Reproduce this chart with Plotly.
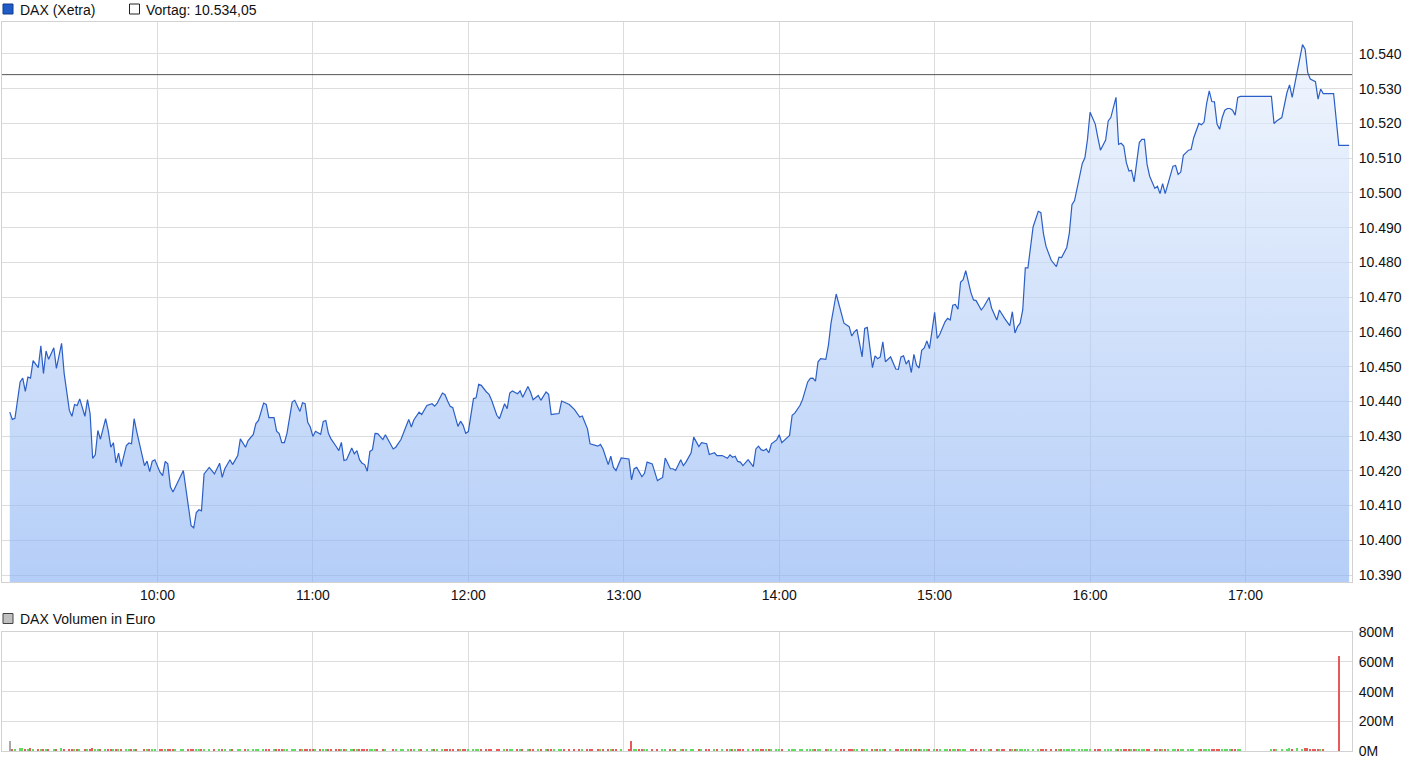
import plotly.graph_objects as go
from datetime import datetime, timedelta

# ---------------- data ----------------
session_day = datetime(2015, 11, 2, 9, 0)

minutes_since_0900 = [
    3, 4, 5, 7, 8, 9, 10, 11, 12, 14,
    15, 16, 17, 18, 20, 21, 23, 24, 26, 27,
    28, 29, 30, 32, 33, 34, 35, 36, 37, 38,
    40, 41, 42, 43, 44, 45, 46, 48, 49, 50,
    51, 52, 55, 56, 57, 58, 59, 61, 62, 63,
    64, 65, 66, 67, 69, 70, 72, 73, 74, 75,
    76, 77, 78, 80, 82, 84, 85, 86, 88, 89,
    91, 92, 94, 95, 97, 98, 99, 101, 102, 103,
    105, 106, 107, 108, 109, 110, 112, 113, 115, 116,
    117, 118, 119, 120, 121, 123, 124, 125, 126, 127,
    129, 130, 131, 132, 133, 135, 136, 137, 138, 139,
    140, 141, 142, 143, 144, 145, 147, 148, 151, 152,
    154, 155, 157, 158, 159, 161, 162, 164, 166, 167,
    168, 170, 171, 172, 173, 174, 176, 177, 178, 179,
    180, 182, 183, 184, 185, 187, 188, 189, 191, 192,
    194, 195, 196, 197, 199, 200, 201, 203, 204, 205,
    207, 208, 210, 211, 212, 213, 215, 216, 217, 219,
    221, 223, 224, 226, 227, 228, 230, 231, 232, 234,
    235, 236, 237, 239, 242, 243, 244, 245, 246, 247,
    248, 249, 251, 253, 255, 256, 258, 259, 260, 262,
    263, 264, 266, 267, 269, 270, 272, 273, 275, 276,
    278, 280, 281, 282, 283, 284, 285, 286, 288, 290,
    291, 292, 293, 294, 295, 296, 297, 299, 300, 301,
    304, 305, 306, 308, 309, 311, 312, 313, 314, 315,
    316, 318, 319, 320, 322, 324, 325, 327, 328, 329,
    330, 332, 333, 334, 336, 337, 338, 339, 340, 341,
    343, 345, 346, 347, 348, 349, 350, 351, 352, 353,
    354, 355, 356, 357, 358, 360, 361, 362, 364, 365,
    366, 367, 368, 369, 370, 371, 372, 374, 375, 376,
    378, 379, 381, 382, 384, 385, 386, 387, 389, 390,
    391, 392, 393, 394, 395, 396, 398, 400, 401, 402,
    403, 405, 407, 408, 409, 410, 411, 412, 413, 414,
    416, 417, 418, 419, 420, 422, 423, 424, 426, 427,
    428, 430, 431, 432, 433, 434, 435, 436, 437, 438,
    439, 440, 441, 442, 443, 445, 446, 447, 448, 449,
    450, 452, 453, 454, 455, 456, 458, 459, 460, 462,
    463, 464, 465, 466, 467, 468, 469, 470, 471, 472,
    473, 474, 475, 476, 477, 478, 490, 491, 492, 494,
    496, 497, 498, 500, 502, 503, 504, 505, 506, 507,
    508, 509, 510, 514, 516, 520,
]

dax_price = [
    10436.9, 10434.8, 10435.1, 10445.6, 10446.7, 10442.9, 10447.0, 10446.7, 10451.7, 10449.7,
    10456.0, 10448.0, 10454.5, 10452.1, 10455.4, 10449.5, 10456.7, 10448.0, 10437.4, 10435.7,
    10439.1, 10438.8, 10440.7, 10435.7, 10440.5, 10436.5, 10423.6, 10424.6, 10431.6, 10429.1,
    10435.0, 10431.6, 10426.8, 10428.1, 10422.3, 10425.1, 10421.2, 10427.3, 10428.0, 10427.8,
    10435.0, 10431.3, 10421.5, 10422.8, 10419.8, 10422.8, 10423.2, 10419.6, 10418.6, 10422.7,
    10422.0, 10415.4, 10413.9, 10415.5, 10418.9, 10420.1, 10409.5, 10404.2, 10403.6, 10408.0,
    10408.8, 10408.5, 10419.1, 10421.0, 10419.1, 10422.2, 10418.1, 10420.6, 10423.2, 10421.8,
    10424.4, 10429.2, 10426.8, 10428.7, 10430.5, 10433.6, 10434.5, 10439.5, 10439.1, 10435.3,
    10435.3, 10431.4, 10430.7, 10428.1, 10428.1, 10430.8, 10439.8, 10440.3, 10437.1, 10439.6,
    10439.3, 10434.0, 10432.6, 10429.9, 10431.4, 10430.5, 10434.2, 10434.5, 10430.8, 10429.2,
    10427.0, 10425.8, 10428.2, 10423.0, 10423.2, 10426.6, 10424.9, 10425.8, 10423.2, 10422.2,
    10421.8, 10419.9, 10425.6, 10426.1, 10430.8, 10430.7, 10429.0, 10430.4, 10426.3, 10426.8,
    10429.0, 10431.1, 10434.8, 10432.6, 10434.7, 10436.9, 10436.2, 10438.8, 10439.3, 10438.6,
    10439.5, 10442.4, 10441.9, 10440.1, 10438.6, 10438.2, 10432.8, 10434.3, 10433.1, 10430.8,
    10431.3, 10440.8, 10441.0, 10444.9, 10444.6, 10442.7, 10442.0, 10440.3, 10436.0, 10435.0,
    10439.3, 10437.9, 10442.4, 10443.0, 10442.2, 10443.0, 10441.2, 10444.3, 10442.7, 10440.5,
    10441.7, 10440.3, 10442.7, 10442.0, 10436.2, 10436.3, 10436.5, 10440.1, 10439.8, 10439.1,
    10437.6, 10435.5, 10435.8, 10432.1, 10427.8, 10427.5, 10427.1, 10427.6, 10426.3, 10421.8,
    10424.2, 10421.0, 10420.1, 10423.7, 10423.4, 10417.4, 10420.6, 10421.0, 10419.6, 10418.3,
    10419.3, 10422.5, 10422.0, 10417.2, 10418.1, 10423.7, 10420.6, 10420.6, 10420.1, 10423.2,
    10421.5, 10422.5, 10425.2, 10429.7, 10427.0, 10428.1, 10427.8, 10424.7, 10425.2, 10424.4,
    10424.4, 10423.6, 10424.6, 10423.9, 10424.2, 10422.7, 10422.5, 10421.5, 10423.2, 10421.2,
    10426.3, 10427.1, 10426.1, 10425.8, 10426.3, 10425.2, 10427.8, 10428.9, 10430.4, 10428.1,
    10430.2, 10436.0, 10436.6, 10438.8, 10440.5, 10445.6, 10446.6, 10446.7, 10445.8, 10451.4,
    10452.3, 10452.1, 10456.2, 10462.5, 10470.9, 10465.1, 10462.5, 10461.5, 10458.8, 10460.0,
    10460.7, 10452.8, 10461.0, 10461.3, 10449.7, 10453.1, 10452.3, 10452.8, 10457.1, 10451.4,
    10452.8, 10449.3, 10449.2, 10452.8, 10453.1, 10450.7, 10451.9, 10448.3, 10453.5, 10450.4,
    10449.6, 10454.7, 10455.4, 10457.4, 10455.2, 10465.6, 10458.1, 10459.3, 10462.9, 10463.9,
    10463.4, 10467.7, 10467.9, 10466.5, 10474.3, 10475.0, 10477.6, 10471.3, 10469.2, 10469.0,
    10466.3, 10467.3, 10469.9, 10466.8, 10463.4, 10466.3, 10464.9, 10463.9, 10461.8, 10465.8,
    10459.7, 10461.5, 10462.5, 10466.3, 10478.4, 10478.4, 10490.2, 10494.7, 10494.3, 10488.3,
    10484.6, 10480.6, 10478.8, 10481.5, 10481.4, 10482.9, 10484.3, 10488.5, 10496.6, 10497.8,
    10504.8, 10508.5, 10510.1, 10515.4, 10523.2, 10519.8, 10515.9, 10512.3, 10515.2, 10520.7,
    10521.7, 10527.5, 10514.0, 10514.3, 10513.5, 10508.7, 10506.3, 10506.5, 10503.2, 10509.2,
    10514.5, 10515.4, 10515.4, 10508.2, 10504.8, 10501.3, 10501.9, 10499.8, 10502.7, 10499.8,
    10502.4, 10507.7, 10507.9, 10505.3, 10506.0, 10510.8, 10512.3, 10512.5, 10515.9, 10520.0,
    10519.6, 10520.4, 10525.8, 10529.4, 10526.3, 10526.2, 10519.8, 10518.3, 10521.7, 10523.8,
    10524.3, 10524.3, 10523.8, 10522.4, 10527.5, 10527.8, 10527.8, 10520.0, 10520.7, 10521.7,
    10528.9, 10531.1, 10527.5, 10535.2, 10542.7, 10541.4, 10534.7, 10532.8, 10532.3, 10532.0,
    10527.0, 10529.9, 10528.6, 10528.6, 10513.7, 10513.7,
]

# Volume in million euro per point
volume_mio_eur = [
    67, 14, 12, 18, 17, 13, 12, 15, 11, 12,
    14, 12, 11, 13, 12, 11, 16, 13, 12, 14,
    11, 12, 10, 13, 12, 11, 15, 12, 11, 10,
    12, 11, 10, 12, 11, 10, 13, 11, 12, 10,
    11, 10, 12, 11, 10, 9, 11, 10, 12, 11,
    10, 11, 12, 13, 10, 9, 11, 12, 14, 10,
    9, 10, 11, 9, 10, 12, 9, 10, 11, 9,
    10, 9, 11, 10, 9, 12, 10, 9, 11, 10,
    9, 10, 9, 11, 9, 10, 12, 10, 9, 10,
    9, 11, 9, 10, 9, 8, 10, 9, 11, 9,
    8, 9, 10, 8, 9, 12, 9, 8, 10, 9,
    8, 9, 8, 10, 9, 8, 9, 8, 10, 9,
    8, 9, 11, 8, 9, 8, 10, 9, 8, 9,
    8, 10, 9, 8, 7, 9, 8, 10, 9, 8,
    7, 9, 8, 11, 8, 7, 9, 8, 7, 10,
    8, 7, 9, 8, 7, 8, 10, 8, 7, 9,
    8, 7, 8, 9, 7, 8, 7, 12, 8, 7,
    8, 7, 9, 8, 7, 8, 7, 9, 8, 7,
    8, 11, 7, 8, 7, 67, 8, 7, 9, 8,
    7, 8, 12, 7, 8, 10, 7, 8, 7, 9,
    8, 7, 8, 7, 9, 7, 8, 7, 8, 7,
    7, 8, 7, 9, 7, 8, 7, 8, 7, 9,
    7, 8, 7, 8, 7, 7, 8, 7, 9, 7,
    8, 7, 8, 7, 9, 8, 7, 8, 10, 8,
    7, 8, 7, 9, 8, 7, 8, 7, 8, 7,
    8, 7, 9, 7, 8, 7, 8, 7, 12, 7,
    8, 7, 8, 7, 8, 7, 9, 7, 8, 7,
    7, 8, 7, 8, 7, 8, 7, 9, 7, 8,
    7, 8, 7, 8, 7, 10, 8, 7, 8, 7,
    9, 7, 8, 7, 8, 7, 8, 9, 7, 8,
    7, 8, 9, 7, 10, 8, 9, 8, 9, 8,
    9, 8, 10, 8, 9, 8, 9, 10, 8, 9,
    10, 9, 8, 10, 9, 8, 9, 10, 8, 9,
    10, 9, 8, 9, 8, 10, 9, 8, 9, 8,
    9, 8, 10, 9, 8, 9, 8, 9, 10, 8,
    9, 8, 9, 8, 10, 9, 8, 9, 8, 9,
    8, 9, 10, 8, 9, 8, 9, 10, 8, 9,
    8, 9, 8, 10, 9, 8, 10, 12, 11, 14,
    13, 15, 12, 17, 14, 19, 16, 13, 14, 12,
    13, 11, 12, 0, 640, 0,
]

vortag = 10534.05
hour_tick_labels = ["10:00", "11:00", "12:00", "13:00", "14:00", "15:00", "16:00", "17:00"]
price_tick_values = [10390, 10400, 10410, 10420, 10430, 10440, 10450, 10460,
                     10470, 10480, 10490, 10500, 10510, 10520, 10530, 10540]
volume_tick_values = [0, 200, 400, 600, 800]
volume_tick_labels = ["0M", "200M", "400M", "600M", "800M"]

# ---------------- build ----------------
times = [session_day + timedelta(minutes=m) for m in minutes_since_0900]
hour_ticks = [datetime.strptime(session_day.strftime("%Y-%m-%d ") + h, "%Y-%m-%d %H:%M")
              for h in hour_tick_labels]

bar_colors = []
for i, p in enumerate(dax_price):
    if i == 0:
        bar_colors.append("#a8a8a8")
    elif p >= dax_price[i - 1]:
        bar_colors.append("#5ddc5d")
    else:
        bar_colors.append("#e85a5a")

FONT = "Liberation Sans, Arial, sans-serif"
W, H = 1410, 766
ML, MR, MT, MB = 2, 58, 22, 15
PW, PH = W - ML - MR, H - MT - MB


def px_x(px):
    return (px - ML) / PW


def px_y(py):
    return (H - MB - py) / PH


x_end = session_day + timedelta(minutes=521.1)

fig = go.Figure()
fig.add_trace(go.Scatter(
    x=times, y=dax_price, mode="lines",
    line=dict(color="#2b5fc7", width=1.2),
    fill="tozeroy",
    fillgradient=dict(type="vertical", start=10388.0, stop=10549.2,
                      colorscale=[[0, "rgba(135,176,243,0.62)"],
                                  [1, "rgba(236,243,253,0.62)"]]),
    xaxis="x", yaxis="y", hoverinfo="skip", showlegend=False,
))
fig.add_trace(go.Bar(
    x=times, y=volume_mio_eur, width=35000,
    marker=dict(color=bar_colors, line=dict(width=0)),
    xaxis="x2", yaxis="y2", hoverinfo="skip", showlegend=False,
))

grid = "#dddddd"
frame = "#d2d2d2"
tickfont = dict(family=FONT, size=14, color="#111111")

fig.update_layout(
    width=W, height=H,
    margin=dict(l=ML, r=MR, t=MT, b=MB),
    paper_bgcolor="white", plot_bgcolor="white",
    separators=",.",
    bargap=0,
    xaxis=dict(domain=[0, 1], anchor="y", type="date",
               range=[session_day, x_end],
               tickvals=hour_ticks, ticktext=hour_tick_labels,
               showgrid=True, gridcolor=grid, gridwidth=1,
               showline=True, mirror=True, linecolor=frame, linewidth=1,
               ticks="", tickfont=tickfont, zeroline=False),
    yaxis=dict(domain=[px_y(582), 1], anchor="x", side="right",
               range=[10388.0, 10549.2],
               tickvals=price_tick_values, tickformat=",d",
               showgrid=True, gridcolor=grid, gridwidth=1,
               showline=True, mirror=True, linecolor=frame, linewidth=1,
               ticks="outside", ticklen=3, tickcolor="rgba(0,0,0,0)",
               tickfont=tickfont, zeroline=False),
    xaxis2=dict(domain=[0, 1], anchor="y2", type="date", matches="x",
                range=[session_day, x_end],
                tickvals=hour_ticks, showticklabels=False,
                showgrid=True, gridcolor=grid, gridwidth=1,
                showline=True, mirror=True, linecolor=frame, linewidth=1,
                ticks="", zeroline=False),
    yaxis2=dict(domain=[0, px_y(632.3)], anchor="x2", side="right",
                range=[0, 800], tickvals=volume_tick_values,
                ticktext=volume_tick_labels,
                showgrid=True, gridcolor=grid, gridwidth=1,
                showline=True, mirror=True, linecolor=frame, linewidth=1,
                ticks="outside", ticklen=3, tickcolor="rgba(0,0,0,0)",
                tickfont=tickfont, zeroline=False),
)

# previous-day close line
fig.add_shape(type="line", xref="x domain", yref="y", x0=0, x1=1,
              y0=vortag, y1=vortag, line=dict(color="#555555", width=1))

# legend squares
fig.add_shape(type="rect", xref="paper", yref="paper",
              x0=px_x(3), x1=px_x(13), y0=px_y(14), y1=px_y(4),
              fillcolor="#1f5bc6", line=dict(color="#0f3c8f", width=1))
fig.add_shape(type="rect", xref="paper", yref="paper",
              x0=px_x(129.5), x1=px_x(139.5), y0=px_y(14), y1=px_y(4),
              fillcolor="white", line=dict(color="#222222", width=1))
fig.add_shape(type="rect", xref="paper", yref="paper",
              x0=px_x(3), x1=px_x(13), y0=px_y(623.5), y1=px_y(613.5),
              fillcolor="#c0c0c0", line=dict(color="#444444", width=1))

vortag_text = "Vortag: " + f"{vortag:,.2f}".replace(",", "X").replace(".", ",").replace("X", ".")
legend_font = dict(family=FONT, size=14, color="#111111")
for txt, xp, yp in [("DAX (Xetra)", 19, 9.5), (vortag_text, 144.5, 9.5),
                    ("DAX Volumen in Euro", 19, 619)]:
    fig.add_annotation(text=txt, xref="paper", yref="paper",
                       x=px_x(xp), y=px_y(yp), xanchor="left", yanchor="middle",
                       showarrow=False, font=legend_font, borderpad=0)

fig.write_html("out.html",
               config={"displayModeBar": False},
               post_script="document.body.style.margin='0px';document.body.style.padding='0px';")
